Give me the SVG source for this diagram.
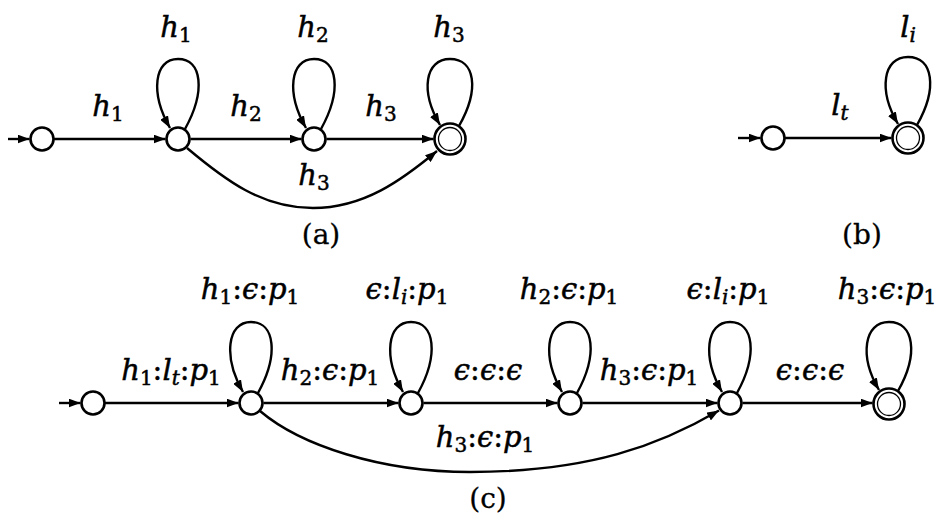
<svg xmlns="http://www.w3.org/2000/svg" width="936" height="523" viewBox="0 0 936 523">
<style>
.n{fill:#fff;stroke:#000;stroke-width:2.6}
.ni{fill:none;stroke:#000;stroke-width:1.3}
.e{fill:none;stroke:#000;stroke-width:2.4;marker-end:url(#ah)}
.t{font-family:"DejaVu Serif",serif;font-style:italic;font-size:29px;fill:#000;stroke:#000;stroke-width:0.5;text-anchor:middle}
.r{font-style:normal}
.s{font-style:normal;font-size:20px}
.si{font-style:italic;font-size:20px}
.cap{font-family:"DejaVu Serif",serif;font-size:28px;fill:#000;stroke:#000;stroke-width:0.3;text-anchor:middle}
</style>
<defs>
<marker id="ah" viewBox="0 0 12 9" refX="12" refY="4.5" markerWidth="12" markerHeight="9" markerUnits="userSpaceOnUse" orient="auto">
<path d="M0,0 L12,4.5 L0,9 z" fill="#000"/>
</marker>
</defs>
<rect width="936" height="523" fill="#fff"/>
<g id="connectors">
<!-- (a) -->
<path class="e" d="M8,139 H29.5"/>
<path class="e" d="M54,139 H165.5"/>
<path class="e" d="M190.5,139 H301.5"/>
<path class="e" d="M326.5,139 H433.5"/>
<path class="e" d="M187,148 C225,180 262,208 313,208 C364,208 402,180 437,151"/>
<path class="e" transform="translate(178,139)" d="M7,-10 C28,-48 24,-80 0,-80 C-24,-80 -28,-46 -8,-11"/>
<path class="e" transform="translate(314,139)" d="M7,-10 C28,-48 24,-80 0,-80 C-24,-80 -28,-46 -8,-11"/>
<path class="e" transform="translate(450,139)" d="M9,-13 C30,-50 25,-80 0,-80 C-25,-80 -30,-48 -10,-14"/>
<!-- (b) -->
<path class="e" d="M738,138 H760.5"/>
<path class="e" d="M785,138 H891.5"/>
<path class="e" transform="translate(908,138)" d="M9,-13 C30,-50 25,-81 0,-81 C-25,-81 -30,-48 -10,-14"/>
<!-- (c) -->
<path class="e" d="M59,403 H80.5"/>
<path class="e" d="M105,403 H238.5"/>
<path class="e" d="M263.5,403 H398.5"/>
<path class="e" d="M423.5,403 H557.5"/>
<path class="e" d="M582.5,403 H717.5"/>
<path class="e" d="M742.5,403 H872.5"/>
<path class="e" d="M260,411 C300,445 380,472 470,472 C590,472 660,445 719,410.5"/>
<path class="e" transform="translate(251,403)" d="M7,-10 C28,-48 24,-81 0,-81 C-24,-81 -28,-46 -8,-11"/>
<path class="e" transform="translate(411,403)" d="M7,-10 C28,-48 24,-81 0,-81 C-24,-81 -28,-46 -8,-11"/>
<path class="e" transform="translate(570,403)" d="M7,-10 C28,-48 24,-81 0,-81 C-24,-81 -28,-46 -8,-11"/>
<path class="e" transform="translate(730,403)" d="M7,-10 C28,-48 24,-81 0,-81 C-24,-81 -28,-46 -8,-11"/>
<path class="e" transform="translate(889,404)" d="M9,-13 C30,-50 25,-82 0,-82 C-25,-82 -30,-48 -10,-14"/>
</g>
<g id="a0"><circle class="n" cx="42" cy="139" r="11.5"/></g>
<g id="a1"><circle class="n" cx="178" cy="139" r="11.5"/></g>
<g id="a2"><circle class="n" cx="314" cy="139" r="11.5"/></g>
<g id="a3"><circle class="n" cx="450" cy="139" r="15.5"/><circle class="ni" cx="450" cy="139" r="11.5"/></g>
<g id="b0"><circle class="n" cx="773" cy="138" r="11.5"/></g>
<g id="b1"><circle class="n" cx="908" cy="138" r="15.5"/><circle class="ni" cx="908" cy="138" r="11.5"/></g>
<g id="c0"><circle class="n" cx="93" cy="403" r="11.5"/></g>
<g id="c1"><circle class="n" cx="251" cy="403" r="11.5"/></g>
<g id="c2"><circle class="n" cx="411" cy="403" r="11.5"/></g>
<g id="c3"><circle class="n" cx="570" cy="403" r="11.5"/></g>
<g id="c4"><circle class="n" cx="730" cy="403" r="11.5"/></g>
<g id="c5"><circle class="n" cx="889" cy="404" r="15.5"/><circle class="ni" cx="889" cy="404" r="11.5"/></g>
<g id="labels">
<!-- (a) -->
<text class="t" x="176" y="37">h<tspan class="s" dy="5">1</tspan></text>
<text class="t" x="313" y="37">h<tspan class="s" dy="5">2</tspan></text>
<text class="t" x="449" y="37">h<tspan class="s" dy="5">3</tspan></text>
<text class="t" x="108" y="116">h<tspan class="s" dy="5">1</tspan></text>
<text class="t" x="246" y="116">h<tspan class="s" dy="5">2</tspan></text>
<text class="t" x="381" y="116">h<tspan class="s" dy="5">3</tspan></text>
<text class="t" x="314" y="185">h<tspan class="s" dy="5">3</tspan></text>
<text class="cap" x="321" y="244">(a)</text>
<!-- (b) -->
<text class="t" x="908" y="37">l<tspan class="si" dy="5">i</tspan></text>
<text class="t" x="840" y="115">l<tspan class="si" dy="5">t</tspan></text>
<text class="cap" x="862" y="244">(b)</text>
<!-- (c) -->
<text class="t" x="250" y="299">h<tspan class="s" dy="5">1</tspan><tspan class="r" dy="-5">:</tspan>ϵ<tspan class="r">:</tspan>p<tspan class="s" dy="5">1</tspan></text>
<text class="t" x="407" y="299">ϵ<tspan class="r">:</tspan>l<tspan class="si" dy="5">i</tspan><tspan class="r" dy="-5">:</tspan>p<tspan class="s" dy="5">1</tspan></text>
<text class="t" x="569" y="299">h<tspan class="s" dy="5">2</tspan><tspan class="r" dy="-5">:</tspan>ϵ<tspan class="r">:</tspan>p<tspan class="s" dy="5">1</tspan></text>
<text class="t" x="728" y="299">ϵ<tspan class="r">:</tspan>l<tspan class="si" dy="5">i</tspan><tspan class="r" dy="-5">:</tspan>p<tspan class="s" dy="5">1</tspan></text>
<text class="t" x="887" y="299">h<tspan class="s" dy="5">3</tspan><tspan class="r" dy="-5">:</tspan>ϵ<tspan class="r">:</tspan>p<tspan class="s" dy="5">1</tspan></text>
<text class="t" x="171" y="380">h<tspan class="s" dy="5">1</tspan><tspan class="r" dy="-5">:</tspan>l<tspan class="si" dy="5">t</tspan><tspan class="r" dy="-5">:</tspan>p<tspan class="s" dy="5">1</tspan></text>
<text class="t" x="330" y="380">h<tspan class="s" dy="5">2</tspan><tspan class="r" dy="-5">:</tspan>ϵ<tspan class="r">:</tspan>p<tspan class="s" dy="5">1</tspan></text>
<text class="t" x="488" y="380">ϵ<tspan class="r">:</tspan>ϵ<tspan class="r">:</tspan>ϵ</text>
<text class="t" x="649" y="380">h<tspan class="s" dy="5">3</tspan><tspan class="r" dy="-5">:</tspan>ϵ<tspan class="r">:</tspan>p<tspan class="s" dy="5">1</tspan></text>
<text class="t" x="810" y="380">ϵ<tspan class="r">:</tspan>ϵ<tspan class="r">:</tspan>ϵ</text>
<text class="t" x="485" y="447">h<tspan class="s" dy="5">3</tspan><tspan class="r" dy="-5">:</tspan>ϵ<tspan class="r">:</tspan>p<tspan class="s" dy="5">1</tspan></text>
<text class="cap" x="488" y="508">(c)</text>
</g>
</svg>
